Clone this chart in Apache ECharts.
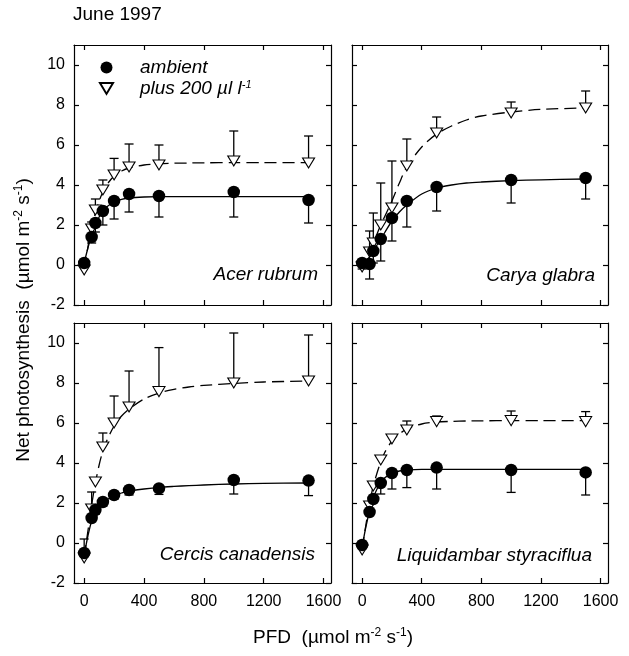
<!DOCTYPE html>
<html>
<head>
<meta charset="utf-8">
<script src="https://cdn.jsdelivr.net/npm/echarts@6/dist/echarts.min.js"></script>
<style>
html,body{margin:0;padding:0;background:#fff;}
#c{width:629px;height:656px;}
</style>
</head>
<body>
<div id="c"></div>
<script>
// ---- data ----
const pfd = [0, 50, 75, 125, 200, 300, 500, 1000, 1500];
const xTicks = [0, 400, 800, 1200, 1600];
const yTicks = [-2, 0, 2, 4, 6, 8, 10];
const species = ['Acer rubrum', 'Carya glabra', 'Cercis canadensis', 'Liquidambar styraciflua'];

const acerAmb      = [0.1, 1.4, 2.1, 2.7, 3.2, 3.55, 3.45, 3.65, 3.25];
const acerAmbErr   = [0, 0.3, 0.45, 0.7, 0.9, 0.9, 1.05, 1.25, 1.15];
const acerPlus     = [-0.25, 1.8, 2.75, 3.75, 4.5, 4.9, 5.0, 5.2, 5.1];
const acerPlusErr  = [0, 0.35, 0.55, 0.5, 0.83, 1.15, 1.0, 1.5, 1.35];

const caryaAmb     = [0.1, 0.05, 0.7, 1.3, 2.35, 3.2, 3.9, 4.25, 4.35];
const caryaAmbErr  = [0.3, 0.75, 0.6, 1.1, 1.15, 1.3, 1.2, 1.15, 1.05];
const caryaPlus    = [-0.1, 0.65, 1.1, 2.0, 2.85, 4.95, 6.6, 7.6, 7.85];
const caryaPlusErr = [0.2, 1.05, 1.5, 2.1, 2.35, 1.35, 0.8, 0.55, 0.85];

const cercisAmb     = [-0.5, 1.25, 1.65, 2.05, 2.4, 2.65, 2.73, 3.15, 3.12];
const cercisAmbErr  = [0, 0, 0.2, 0.2, 0.2, 0.25, 0.3, 0.7, 0.75];
const cercisPlus    = [-0.75, 1.7, 3.05, 4.8, 6.0, 6.8, 7.57, 8.0, 8.1];
const cercisPlusErr = [0.95, 0.85, 0, 0.7, 1.35, 1.8, 2.2, 2.5, 2.3];

const liqAmb     = [-0.1, 1.55, 2.2, 3.0, 3.5, 3.65, 3.77, 3.65, 3.53];
const liqAmbErr  = [0, 0, 0, 0.55, 0.8, 0.88, 1.07, 1.12, 1.13];
const liqPlus    = [-0.35, 1.85, 2.85, 4.15, 5.2, 5.65, 6.07, 6.12, 6.07];
const liqPlusErr = [0, 0, 0, 0, 0, 0.45, 0.28, 0.48, 0.5];

// fitted curves
const curveX        = [0, 25, 50, 75, 100, 125, 150, 200, 250, 300, 400, 500, 600, 700, 800, 1000, 1200, 1500];
const acerAmbFit    = [0.1, 0.85, 1.5, 2.0, 2.4, 2.7, 2.9, 3.15, 3.28, 3.35, 3.4, 3.42, 3.42, 3.42, 3.42, 3.42, 3.42, 3.42];
const acerPlusFit   = [-0.2, 0.9, 1.9, 2.6, 3.2, 3.65, 4.0, 4.45, 4.7, 4.85, 5.0, 5.06, 5.09, 5.1, 5.11, 5.12, 5.12, 5.12];
const caryaAmbFit   = [0, 0.2, 0.4, 0.7, 1.0, 1.3, 1.6, 2.2, 2.65, 3.0, 3.55, 3.85, 4.0, 4.1, 4.15, 4.22, 4.26, 4.3];
const caryaPlusFit  = [-0.2, 0.15, 0.5, 1.0, 1.55, 2.0, 2.4, 3.2, 4.1, 4.9, 5.9, 6.55, 6.95, 7.25, 7.45, 7.65, 7.78, 7.85];
const cercisAmbFit  = [-0.6, 0.35, 1.1, 1.5, 1.8, 2.0, 2.15, 2.38, 2.5, 2.6, 2.7, 2.78, 2.83, 2.87, 2.9, 2.95, 2.98, 3.0];
const cercisPlusFit = [-0.7, 0.6, 1.9, 3.0, 3.9, 4.6, 5.1, 5.85, 6.35, 6.7, 7.2, 7.5, 7.68, 7.8, 7.88, 7.98, 8.05, 8.1];
const liqAmbFit     = [-0.2, 0.8, 1.6, 2.25, 2.7, 3.0, 3.25, 3.48, 3.6, 3.65, 3.68, 3.68, 3.68, 3.68, 3.68, 3.68, 3.68, 3.68];
const liqPlusFit    = [-0.3, 0.9, 2.0, 2.85, 3.5, 4.05, 4.5, 5.1, 5.45, 5.7, 5.95, 6.05, 6.08, 6.1, 6.11, 6.12, 6.12, 6.12];

const panels = [
  {amb: acerAmb, ambErr: acerAmbErr, plus: acerPlus, plusErr: acerPlusErr, ambFit: acerAmbFit, plusFit: acerPlusFit},
  {amb: caryaAmb, ambErr: caryaAmbErr, plus: caryaPlus, plusErr: caryaPlusErr, ambFit: caryaAmbFit, plusFit: caryaPlusFit},
  {amb: cercisAmb, ambErr: cercisAmbErr, plus: cercisPlus, plusErr: cercisPlusErr, ambFit: cercisAmbFit, plusFit: cercisPlusFit},
  {amb: liqAmb, ambErr: liqAmbErr, plus: liqPlus, plusErr: liqPlusErr, ambFit: liqAmbFit, plusFit: liqPlusFit}
];

// ---- layout ----
const FONT = 'Liberation Sans, Arial, sans-serif';
const gridsPos = [
  {left: 74, top: 45, width: 257, height: 260},
  {left: 352, top: 45, width: 256, height: 260},
  {left: 74, top: 323, width: 257, height: 260},
  {left: 352, top: 323, width: 256, height: 260}
];
const XMIN = -68, XMAX = 1650, YMIN = -2, YMAX = 11;
const TRI = 'path://M0,0L12,0L6,10Z';

const grid = gridsPos.map(g => Object.assign({}, g));
const xAxis = [], yAxis = [], series = [];
const plain = v => String(v);

gridsPos.forEach((g, i) => {
  const bottomLabels = i >= 2, leftLabels = (i % 2 === 0);
  const common = {
    min: XMIN, max: XMAX, gridIndex: i, type: 'value',
    axisLine: {show: true, onZero: false, lineStyle: {color: '#000', width: 1.2}},
    axisTick: {show: true, inside: true, length: 5, customValues: xTicks, lineStyle: {color: '#000', width: 1.2}},
    splitLine: {show: false}
  };
  xAxis.push(Object.assign({}, common, {position: 'bottom',
    axisLabel: {show: bottomLabels, customValues: xTicks, formatter: plain, color: '#000', fontFamily: FONT, fontSize: 16, margin: 11}}));
  xAxis.push(Object.assign({}, common, {position: 'top', axisLabel: {show: false}}));
  const ycommon = {
    min: YMIN, max: YMAX, gridIndex: i, type: 'value',
    axisLine: {show: true, onZero: false, lineStyle: {color: '#000', width: 1.2}},
    axisTick: {show: true, inside: true, length: 5, customValues: yTicks, lineStyle: {color: '#000', width: 1.2}},
    splitLine: {show: false}
  };
  yAxis.push(Object.assign({}, ycommon, {position: 'left',
    axisLabel: {show: leftLabels, customValues: yTicks, formatter: plain, color: '#000', fontFamily: FONT, fontSize: 16, margin: 9}}));
  yAxis.push(Object.assign({}, ycommon, {position: 'right', axisLabel: {show: false}}));

  const p = panels[i];
  const xi = 2 * i, yi = 2 * i;
  series.push({type: 'line', name: 'fit-amb-' + i, xAxisIndex: xi, yAxisIndex: yi,
    data: curveX.map((x, k) => [x, p.ambFit[k]]), smooth: 0.3, showSymbol: false, symbol: 'none',
    lineStyle: {color: '#000', width: 1.3}, z: 2, silent: true});
  series.push({type: 'line', name: 'fit-plus-' + i, xAxisIndex: xi, yAxisIndex: yi,
    data: curveX.map((x, k) => [x, p.plusFit[k]]), smooth: 0.3, showSymbol: false, symbol: 'none',
    lineStyle: {color: '#000', width: 1.3, type: [12, 6]}, z: 2, silent: true});
  const errRender = function (params, api) {
    const x = api.value(0), y = api.value(1), e = api.value(2), d = api.value(3);
    if (!e) return null;
    const p0 = api.coord([x, y]);
    const p1 = api.coord([x, y + d * e]);
    return {type: 'group', children: [
      {type: 'line', shape: {x1: p0[0], y1: p0[1], x2: p1[0], y2: p1[1]}, style: {stroke: '#000', lineWidth: 1.3}},
      {type: 'line', shape: {x1: p1[0] - 4.5, y1: p1[1], x2: p1[0] + 4.5, y2: p1[1]}, style: {stroke: '#000', lineWidth: 1.3}}
    ]};
  };
  series.push({type: 'custom', name: 'err-amb-' + i, xAxisIndex: xi, yAxisIndex: yi, renderItem: errRender,
    data: pfd.map((x, k) => [x, p.amb[k], p.ambErr[k], -1]), z: 3, silent: true});
  series.push({type: 'custom', name: 'err-plus-' + i, xAxisIndex: xi, yAxisIndex: yi, renderItem: errRender,
    data: pfd.map((x, k) => [x, p.plus[k], p.plusErr[k], 1]), z: 3, silent: true});
  series.push({type: 'scatter', name: 'plus', xAxisIndex: xi, yAxisIndex: yi,
    data: pfd.map((x, k) => [x, p.plus[k]]), symbol: TRI, symbolSize: [12, 10],
    itemStyle: {color: '#fff', borderColor: '#000', borderWidth: 1.1, opacity: 1}, z: 4});
  series.push({type: 'scatter', name: 'ambient', xAxisIndex: xi, yAxisIndex: yi,
    data: pfd.map((x, k) => [x, p.amb[k]]), symbol: 'circle', symbolSize: 12.5,
    itemStyle: {color: '#000', opacity: 1}, z: 5});
});

const speciesPos = [[318, 275], [595, 276], [315, 555], [592, 556]];
const graphic = species.map((s, i) => ({
  type: 'text', x: speciesPos[i][0], y: speciesPos[i][1],
  style: {text: s, fill: '#000', font: 'italic 19px ' + FONT, textAlign: 'right', textVerticalAlign: 'middle'}
}));
graphic.push({type: 'text', x: 73, y: 15, style: {text: 'June 1997', fill: '#000', font: '19px ' + FONT, textVerticalAlign: 'middle'}});
const titleRich = {t: {fontSize: 19, fontFamily: FONT, fill: '#000', verticalAlign: 'bottom'},
                   s: {fontSize: 12, fontFamily: FONT, fill: '#000', verticalAlign: 'top', padding: [0, 0, 9, 0]}};
graphic.push({type: 'text', x: 333, y: 637,
  style: {text: '{t|PFD  (µmol m}{s|-2}{t| s}{s|-1}{t|)}', textAlign: 'center', textVerticalAlign: 'middle', rich: titleRich}});
graphic.push({type: 'text', x: 23, y: 320, rotation: Math.PI / 2,
  style: {text: '{t|Net photosynthesis  (µmol m}{s|-2}{t| s}{s|-1}{t|)}', textAlign: 'center', textVerticalAlign: 'middle', rich: titleRich}});

const option = {
  animation: false,
  backgroundColor: '#fff',
  grid, xAxis, yAxis, series, graphic,
  legend: {
    data: [{name: 'ambient', icon: 'circle'}, {name: 'plus', icon: TRI}],
    orient: 'vertical', left: 94, top: 53, itemWidth: 13, itemHeight: 12, itemGap: 2,
    selectedMode: false,
    formatter: function (name) {
      return name === 'ambient' ? '{t|ambient}' : '{t|plus 200 µl l}{s|-1}';
    },
    textStyle: {
      fontFamily: FONT, fontStyle: 'italic', fontSize: 19, color: '#000', padding: [0, 0, 0, 22],
      rich: {t: {fontFamily: FONT, fontStyle: 'italic', fontSize: 19, color: '#000', verticalAlign: 'bottom', lineHeight: 19},
             s: {fontFamily: FONT, fontStyle: 'italic', fontSize: 11, color: '#000', verticalAlign: 'top', padding: [0, 0, 8, 0]}}
    }
  }
};
const chart = echarts.init(document.getElementById('c'), null, {renderer: 'canvas'});
chart.setOption(option);
</script>
</body>
</html>
